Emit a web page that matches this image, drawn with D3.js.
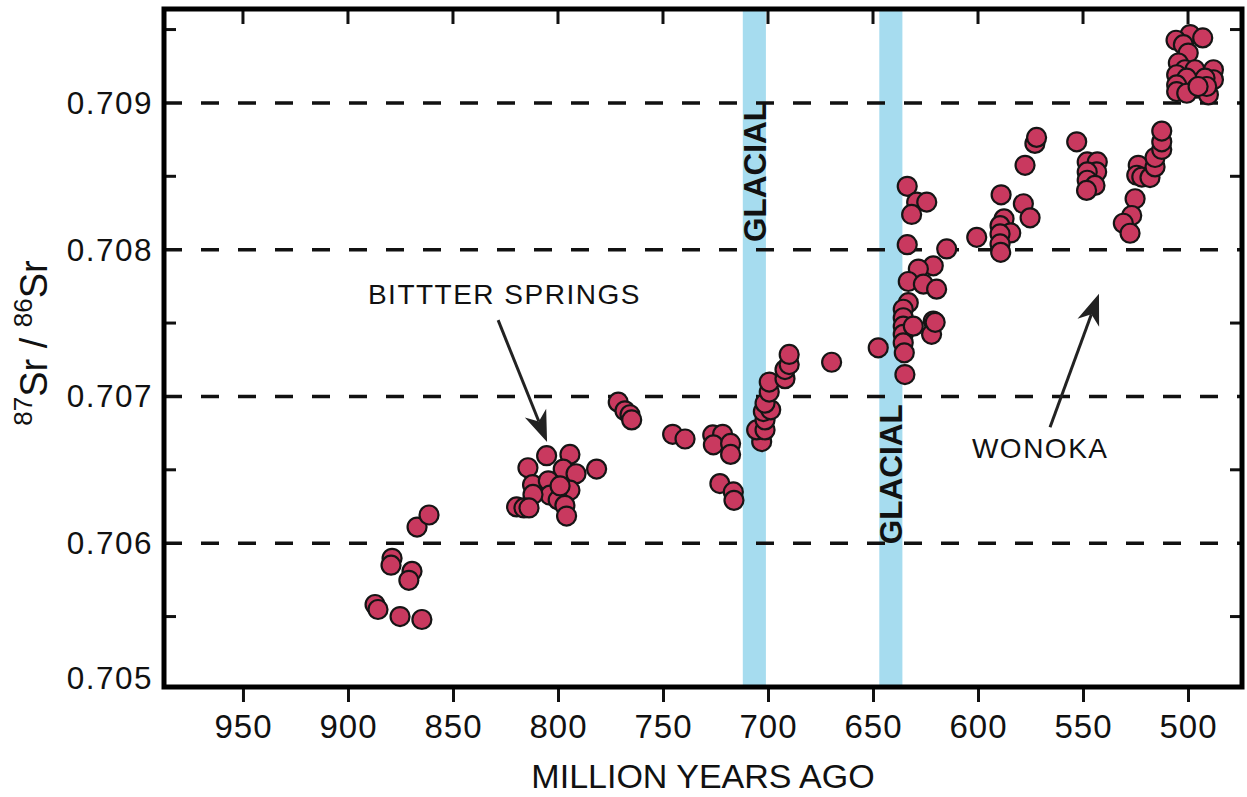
<!DOCTYPE html>
<html>
<head>
<meta charset="utf-8">
<script src="https://cdn.jsdelivr.net/npm/d3@7"></script>
<style>
  html, body { margin: 0; padding: 0; background: #ffffff; }
  svg { display: block; }
  text { font-family: "Liberation Sans", Arial, Helvetica, sans-serif; fill: #111; }
</style>
</head>
<body>
<svg id="chart" width="1247" height="797"></svg>
<script>
// ---------------- DATA ----------------
const ages = [
  887.1, 885.7, 875.2, 864.8, 879.0, 879.5, 869.5, 871.0, 867.1, 861.4,
  805.4, 794.3, 814.3, 797.5, 791.4, 781.6, 812.1, 804.6, 794.3, 803.8, 811.9, 799.9, 796.7, 819.7, 816.2, 813.8, 795.9, 799.0,
  771.3, 768.1, 765.7, 764.9,
  745.4, 739.5,
  726.3, 721.6, 726.0, 717.8, 717.8, 722.9, 716.5, 716.2,
  703.0, 705.4, 701.4, 701.4, 702.2, 698.7, 701.4, 699.4, 699.4, 691.9, 691.9, 689.9, 689.9,
  669.7, 647.5,
  633.7, 629.2, 624.4, 631.6, 633.7, 614.9, 600.6, 621.3, 628.4, 633.2, 626.0, 619.7, 633.2,
  635.6, 635.6, 635.6, 635.6, 635.6, 635.1, 630.8, 621.3, 622.1, 620.4, 634.8,
  589.0, 587.6, 589.5, 584.4, 589.5, 589.5, 589.2, 578.4, 575.2, 577.6, 572.9, 572.1, 553.0,
  548.0, 543.2, 543.5, 548.0, 548.0, 544.3, 548.3,
  523.7, 524.4, 522.0, 518.1, 515.7, 515.7, 512.5, 512.5, 512.5, 525.2, 526.8, 530.8, 527.6,
  499.0, 493.0, 505.7, 502.2, 499.9, 504.6, 501.4, 496.7, 505.4, 487.9, 487.9, 491.9, 500.6, 505.4, 495.9, 505.4, 500.6, 490.3, 491.1, 495.2
];
const ratios = [
  0.705582, 0.705548, 0.705500, 0.705480, 0.705897, 0.705850, 0.705808, 0.705747, 0.706110, 0.706192,
  0.706596, 0.706605, 0.706514, 0.706505, 0.706473, 0.706505, 0.706399, 0.706425, 0.706361, 0.706327, 0.706332, 0.706295, 0.706258, 0.706247, 0.706240, 0.706240, 0.706185, 0.706390,
  0.706961, 0.706902, 0.706875, 0.706840,
  0.706742, 0.706710,
  0.706738, 0.706742, 0.706670, 0.706680, 0.706605, 0.706406, 0.706349, 0.706292,
  0.706692, 0.706772, 0.706772, 0.706840, 0.706897, 0.706909, 0.706954, 0.707030, 0.707098, 0.707121, 0.707183, 0.707217, 0.707286,
  0.707233, 0.707331,
  0.708432, 0.708324, 0.708324, 0.708240, 0.708034, 0.708005, 0.708084, 0.707890, 0.707868, 0.707783, 0.707765, 0.707731, 0.707639,
  0.707594, 0.707536, 0.707479, 0.707423, 0.707365, 0.707297, 0.707479, 0.707514, 0.707423, 0.707505, 0.707149,
  0.708374, 0.708210, 0.708164, 0.708114, 0.708107, 0.708039, 0.707982, 0.708313, 0.708217, 0.708575, 0.708724, 0.708765, 0.708735,
  0.708598, 0.708598, 0.708530, 0.708530, 0.708473, 0.708438, 0.708404,
  0.708575, 0.708507, 0.708495, 0.708491, 0.708564, 0.708628, 0.708683, 0.708735, 0.708808, 0.708347, 0.708233, 0.708180, 0.708112,
  0.709466, 0.709443, 0.709427, 0.709397, 0.709340, 0.709272, 0.709226, 0.709226, 0.709192, 0.709226, 0.709158, 0.709169, 0.709169, 0.709123, 0.709100, 0.709077, 0.709066, 0.709055, 0.709112, 0.709112
];
const xTicks = [950, 900, 850, 800, 750, 700, 650, 600, 550, 500];
const yLabelTicks = [0.705, 0.706, 0.707, 0.708, 0.709];
const yMinorTicks = [0.7055, 0.7065, 0.7075, 0.7085, 0.7095];
const gridValues = [0.706, 0.707, 0.708, 0.709];
const glacialStart = [712, 647];
const glacialEnd = [701, 636];
const glacialLabelRatio = [0.70853, 0.70647];
const glacialLabel = "GLACIAL";
const xTitle = "MILLION YEARS AGO";
const annotations = [
  { text: "BITTTER SPRINGS", age: 890.5, ratio: 0.70763, from: [828.5, 0.70752], to: [805.2, 0.70669] },
  { text: "WONOKA", age: 602.9, ratio: 0.706581, from: [565.7, 0.70679], to: [542.4, 0.70770] }
];

// ---------------- LAYOUT ----------------
const svg = d3.select("#chart");
const L = 164, R = 1242, T = 9, B = 687;
const x = d3.scaleLinear().domain([987.6, 474.3]).range([L, R]);
const y = d3.scaleLinear().domain([0.70502, 0.70964]).range([B, T]);

const pointFill = "#c9395f";
const bandFill = "#a6dcef";

// glacial bands
svg.append("g").selectAll("rect").data(glacialStart).join("rect")
  .attr("x", (d, i) => x(d))
  .attr("y", T)
  .attr("width", (d, i) => x(glacialEnd[i]) - x(d))
  .attr("height", B - T)
  .attr("fill", bandFill);

// dashed grid lines
svg.append("g").selectAll("line").data(gridValues).join("line")
  .attr("x1", L).attr("x2", R)
  .attr("y1", d => y(d)).attr("y2", d => y(d))
  .attr("stroke", "#111").attr("stroke-width", 3.5)
  .attr("stroke-dasharray", "18,19");

// glacial labels
svg.append("g").selectAll("text").data(glacialStart).join("text")
  .attr("transform", (d, i) => `translate(${(x(d) + x(glacialEnd[i])) / 2 + 11.5},${y(glacialLabelRatio[i])}) rotate(-90)`)
  .attr("text-anchor", "middle")
  .attr("font-size", 31.5)
  .attr("font-weight", "bold")
  .text(glacialLabel);

// axes (ticks)
const axisG = svg.append("g");
axisG.selectAll(".lt").data(yMinorTicks).join("line")
  .attr("x1", L).attr("x2", L + 12)
  .attr("y1", d => y(d)).attr("y2", d => y(d))
  .attr("stroke", "#111").attr("stroke-width", 3);
axisG.selectAll(".rt").data(yMinorTicks).join("line")
  .attr("x1", R - 12).attr("x2", R)
  .attr("y1", d => y(d)).attr("y2", d => y(d))
  .attr("stroke", "#111").attr("stroke-width", 3);
axisG.selectAll(".tt").data(xTicks).join("line")
  .attr("x1", d => x(d)).attr("x2", d => x(d))
  .attr("y1", T).attr("y2", T + 15)
  .attr("stroke", "#111").attr("stroke-width", 3);
const xAxis = d3.axisBottom(x).tickValues(xTicks).tickSize(15).tickFormat(d3.format("d")).tickPadding(0);
const gx = svg.append("g").attr("transform", `translate(0,${B})`).call(xAxis);
gx.select(".domain").remove();
gx.selectAll(".tick line").attr("stroke", "#111").attr("stroke-width", 3);
gx.selectAll(".tick text")
  .attr("font-size", 33).attr("fill", "#111")
  .attr("letter-spacing", 1)
  .attr("font-family", "'Liberation Sans', Arial, Helvetica, sans-serif")
  .attr("y", 51)
  .attr("dy", 0);

// y labels
svg.append("g").selectAll("text").data(yLabelTicks).join("text")
  .attr("x", 153)
  .attr("y", d => Math.min(y(d), B - 9) + 11)
  .attr("text-anchor", "end")
  .attr("font-size", 31.5)
  .attr("letter-spacing", 1.5)
  .text(d => d3.format(".3f")(d));

// data points
svg.append("g").selectAll("circle").data(ages).join("circle")
  .attr("cx", d => x(d))
  .attr("cy", (d, i) => y(ratios[i]))
  .attr("r", 9.5)
  .attr("fill", pointFill)
  .attr("stroke", "#151515")
  .attr("stroke-width", 2.2);

// frame
svg.append("rect")
  .attr("x", L).attr("y", T).attr("width", R - L).attr("height", B - T)
  .attr("fill", "none").attr("stroke", "#000").attr("stroke-width", 5);

// annotations
const annG = svg.append("g");
annotations.forEach(a => {
  annG.append("text")
    .attr("x", x(a.age)).attr("y", y(a.ratio))
    .attr("font-size", 28)
    .attr("letter-spacing", 1.5)
    .text(a.text);
  const x1 = x(a.from[0]), y1 = y(a.from[1]), x2 = x(a.to[0]), y2 = y(a.to[1]);
  const ang = Math.atan2(y2 - y1, x2 - x1);
  const len = 31, half = 11.5, notch = 22;
  const ux = Math.cos(ang), uy = Math.sin(ang), px = -uy, py = ux;
  const bx = x2 - ux * len, by = y2 - uy * len;
  const nx = x2 - ux * notch, ny = y2 - uy * notch;
  annG.append("line")
    .attr("x1", x1).attr("y1", y1).attr("x2", nx).attr("y2", ny)
    .attr("stroke", "#222").attr("stroke-width", 3);
  annG.append("path")
    .attr("d", `M${x2},${y2} L${bx + px * half},${by + py * half} L${nx},${ny} L${bx - px * half},${by - py * half} Z`)
    .attr("fill", "#222");
});

// axis titles
svg.append("text")
  .attr("x", 703).attr("y", 788)
  .attr("text-anchor", "middle")
  .attr("font-size", 34)
  .text(xTitle);

const yt = svg.append("text")
  .attr("transform", "translate(47,343) rotate(-90)")
  .attr("text-anchor", "middle");
yt.append("tspan").attr("font-size", 26).attr("dy", -15).text("87");
yt.append("tspan").attr("font-size", 38).attr("dy", 15).text("Sr / ");
yt.append("tspan").attr("font-size", 26).attr("dy", -15).text("86");
yt.append("tspan").attr("font-size", 38).attr("dy", 15).text("Sr");
</script>
</body>
</html>
